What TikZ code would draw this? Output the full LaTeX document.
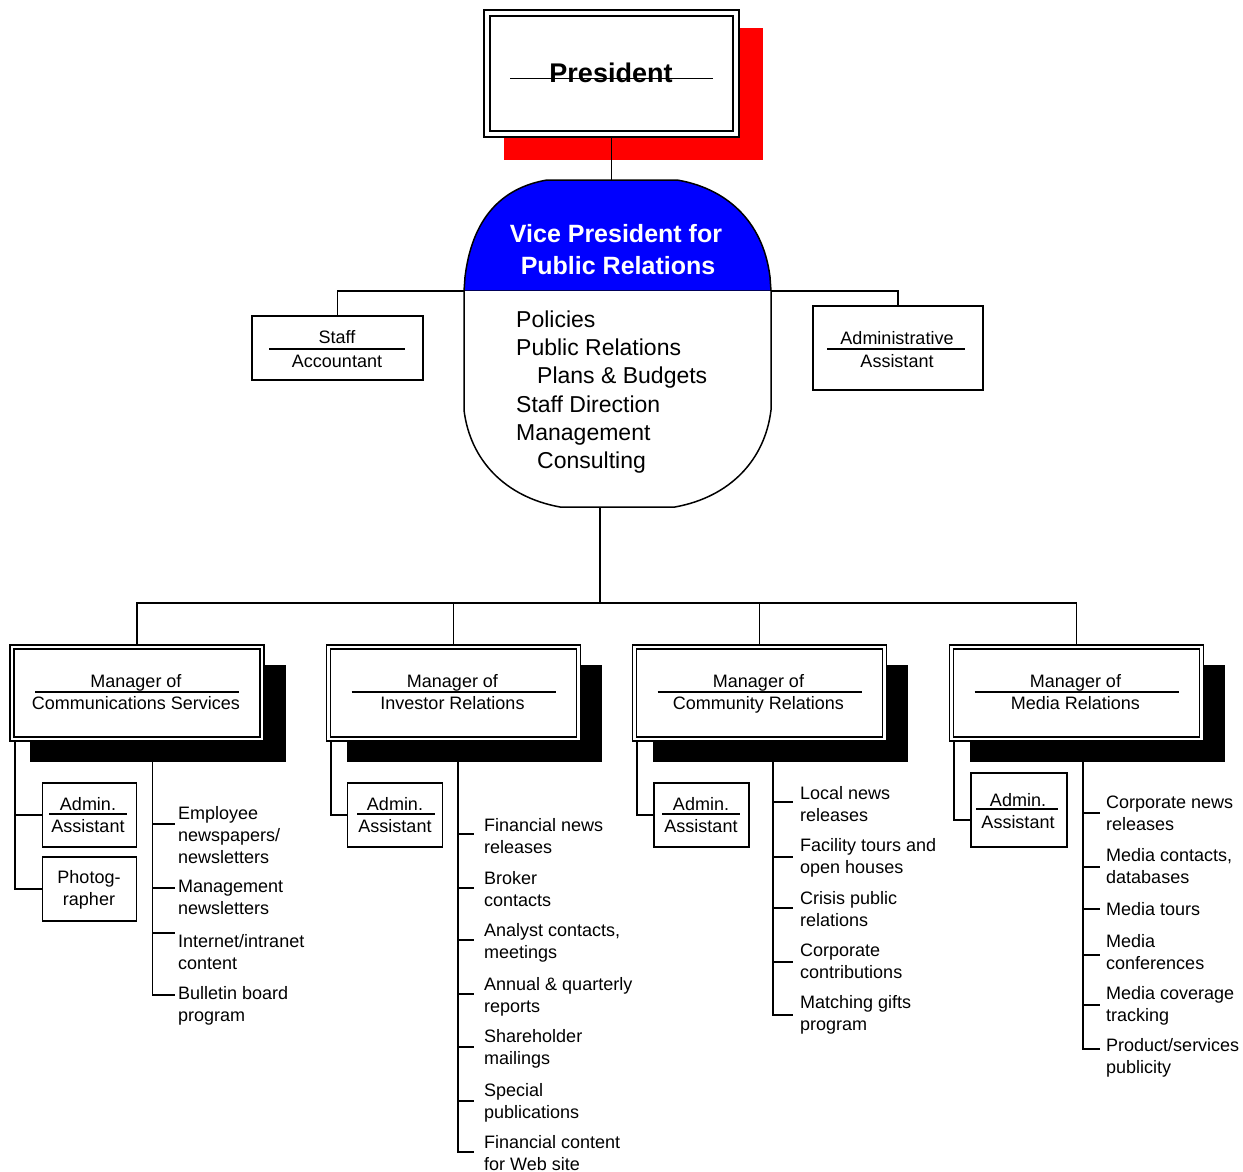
\documentclass[tikz,border=0pt]{standalone}
\usepackage{fontspec}
\setmainfont{Liberation Sans}
\usetikzlibrary{calc,backgrounds}
\definecolor{vpblue}{RGB}{0,0,255}
\definecolor{presred}{RGB}{255,0,0}
\begin{document}
\begin{tikzpicture}[x=1pt, y=-1pt,
  conn/.style={line width=1.8pt},
  sep/.style={line width=1.4pt},
  box/.style={draw, line width=1.8pt, fill=white, inner sep=0pt},
  dbox/.style={draw, line width=1.3pt, double=white, double distance=2.6pt,
    fill=white, inner sep=0pt, minimum width=250pt, minimum height=92pt},
  lbl/.style={inner sep=0pt, anchor=base, font=\fontsize{18}{22}\selectfont},
  vplist/.style={inner sep=0pt, anchor=base west, font=\fontsize{23}{28}\selectfont},
  vptitle/.style={inner sep=0pt, anchor=base, text=white,
    font=\fontsize{25}{32}\selectfont\bfseries},
  item/.style={inner sep=0pt, anchor=north west, align=left, yshift=13.4pt,
    font=\fontsize{18}{22}\selectfont, execute at begin node=\strut},
]
\useasboundingbox (0,0) rectangle (1243,1172);

% ---------- President ----------
\node[dbox, line width=1.4pt, double distance=4.5pt,
  minimum width=249pt, minimum height=121pt] (pres) at (611.5,73.5) {};
\node[inner sep=0pt, anchor=base, font=\fontsize{27}{30}\selectfont\bfseries]
  (pres-t) at (611,82) {President};
\draw[sep] (510,78.5) -- (713,78.5);

% ---------- Vice President ----------
\filldraw[fill=vpblue, line width=1.5pt]
  (464,291) -- (465,277) .. controls (472,220) and (500,188) .. (547,180)
  -- (677,180) .. controls (725,188) and (763,220) .. (770,277)
  -- (771,291) -- cycle;
\filldraw[fill=white, line width=1.5pt]
  (464,291) -- (464,410) .. controls (470,460) and (505,497) .. (560,507)
  -- (675,507) .. controls (730,497) and (765,460) .. (771,410) -- (771,291);
\node[vptitle] (vp-t1) at (616,242) {Vice President for};
\node[vptitle] (vp-t2) at (618,274) {Public Relations};
\node[vplist] (vp-l1) at (516,327) {Policies};
\node[vplist] (vp-l2) at (516,355.5) {Public Relations};
\node[vplist] (vp-l3) at (537,383.5) {Plans \& Budgets};
\node[vplist] (vp-l4) at (516,412) {Staff Direction};
\node[vplist] (vp-l5) at (516,440.5) {Management};
\node[vplist] (vp-l6) at (537,468.5) {Consulting};
\coordinate (vptop) at (611.5,180);
\coordinate (vpbot) at (600,507);
\coordinate (vpl) at (464,291);
\coordinate (vpr) at (771,291);
\coordinate (bus) at (600,603);

% ---------- Staff boxes ----------
\node[box, minimum width=171pt, minimum height=64pt] (staff) at (337.5,348) {};
\node[lbl] (staff-a) at (337,343.5) {Staff};
\node[lbl] (staff-b) at (337,367) {Accountant};
\draw[sep] (269,349) -- (405,349);

\node[box, minimum width=170pt, minimum height=84pt] (admin) at (898,348) {};
\node[lbl] (admin-a) at (897,344) {Administrative};
\node[lbl] (admin-b) at (897,367.5) {Assistant};
\draw[sep] (827,349) -- (965,349);

% ---------- Managers ----------
\foreach \i/\cx/\sub in {1/137/Communications Services, 2/453.5/Investor Relations,
    3/759.5/Community Relations, 4/1076.5/Media Relations} {
  \node[dbox] (m\i) at (\cx,693) {};
  \node[lbl] (m\i-a) at (\cx-1,687) {Manager of};
  \node[lbl] (m\i-b) at (\cx-1,709) {\sub};
  \draw[sep] (\cx-102,692) -- (\cx+102,692);
}

% ---------- Assistants ----------
\node[box, minimum width=94pt, minimum height=64pt] (a1) at (89.5,815) {};
\node[lbl] (a1-a) at (88,810) {Admin.};
\node[lbl] (a1-b) at (88,832) {Assistant};
\draw[sep] (49,814) -- (127,814);
\node[box, minimum width=94pt, minimum height=64pt] (ph) at (89.5,889) {};
\node[lbl] (ph-a) at (89,883) {Photog-};
\node[lbl] (ph-b) at (89,905) {rapher};

\node[box, minimum width=95pt, minimum height=64pt] (a2) at (395,815) {};
\node[lbl] (a2-a) at (395,810) {Admin.};
\node[lbl] (a2-b) at (395,832) {Assistant};
\draw[sep] (357,814) -- (435,814);

\node[box, minimum width=95pt, minimum height=64pt] (a3) at (701.5,815) {};
\node[lbl] (a3-a) at (701,810) {Admin.};
\node[lbl] (a3-b) at (701,832) {Assistant};
\draw[sep] (662,814) -- (740,814);

\node[box, minimum width=96pt, minimum height=74pt] (a4) at (1019,810) {};
\node[lbl] (a4-a) at (1018,806) {Admin.};
\node[lbl] (a4-b) at (1018,828) {Assistant};
\draw[sep] (976,809) -- (1058,809);

% ---------- Duties ----------
\node[item] (c1-1) at (178,819.5) {Employee\\newspapers/\\newsletters};
\node[item] (c1-2) at (178,893.5) {Management\\newsletters};
\node[item] (c1-3) at (178,947.5) {Internet/intranet\\content};
\node[item] (c1-4) at (178,999.5) {Bulletin board\\program};

\node[item] (c2-1) at (484,832) {Financial news\\releases};
\node[item] (c2-2) at (484,884.5) {Broker\\contacts};
\node[item] (c2-3) at (484,936.5) {Analyst contacts,\\meetings};
\node[item] (c2-4) at (484,991) {Annual \& quarterly\\reports};
\node[item] (c2-5) at (484,1042.5) {Shareholder\\mailings};
\node[item] (c2-6) at (484,1097) {Special\\publications};
\node[item] (c2-7) at (484,1149) {Financial content\\for Web site};

\node[item] (c3-1) at (800,800) {Local news\\releases};
\node[item] (c3-2) at (800,852) {Facility tours and\\open houses};
\node[item] (c3-3) at (800,904.5) {Crisis public\\relations};
\node[item] (c3-4) at (800,957) {Corporate\\contributions};
\node[item] (c3-5) at (800,1009) {Matching gifts\\program};

\node[item] (c4-1) at (1106,809.5) {Corporate news\\releases};
\node[item] (c4-2) at (1106,861.5) {Media contacts,\\databases};
\node[item] (c4-3) at (1106,913.5) {Media tours};
\node[item] (c4-4) at (1106,947.5) {Media\\conferences};
\node[item] (c4-5) at (1106,999.5) {Media coverage\\tracking};
\node[item] (c4-6) at (1106,1051.5) {Product/services\\publicity};

% tick ends of the duty lists
\foreach \k/\yy in {1/824, 2/888, 3/933, 4/995} \coordinate (t1-\k) at (175,\yy);
\foreach \k/\yy in {1/834, 2/888, 3/940, 4/994, 5/1047, 6/1101, 7/1152} \coordinate (t2-\k) at (474,\yy);
\foreach \k/\yy in {1/802, 2/857, 3/908, 4/962, 5/1015} \coordinate (t3-\k) at (793,\yy);
\foreach \k/\yy in {1/813, 2/867, 3/909, 4/955, 5/1005, 6/1049} \coordinate (t4-\k) at (1100,\yy);

% ---------- Shadows and connectors ----------
\begin{scope}[on background layer]
  \fill[presred] ($(pres.north west)+(18,16)$) rectangle ($(pres.south east)+(26,25)$);
  \foreach \i in {1,...,4}
    \fill[black] ($(m\i.north west)+(19,19)$) rectangle ($(m\i.south east)+(23,22)$);

  \draw[conn] (pres.south) -- (vptop);
  \draw[conn] (staff.north) |- (vpl) -- (vpr) -| (admin.north);
  \draw[conn] (vpbot) -- (bus);
  \draw[conn] (m1.north) |- (bus) -| (m4.north);
  \draw[conn] (m2.north) -- (m2.north |- bus);
  \draw[conn] (m3.north) -- (m3.north |- bus);

  \draw[conn] ([xshift=3.5pt]m1.south west) |- (a1.west);
  \draw[conn] ([xshift=3.5pt]m1.south west) |- (ph.west);
  \draw[conn] ([xshift=3.5pt]m2.south west) |- (a2.west);
  \draw[conn] ([xshift=3.5pt]m3.south west) |- (a3.west);
  \draw[conn] ([xshift=3.5pt]m4.south west) |- ([yshift=-10pt]a4.west);

  \foreach \k in {1,...,4} \draw[conn] ([xshift=15.5pt]m1.south) |- (t1-\k);
  \foreach \k in {1,...,7} \draw[conn] ([xshift=4.5pt]m2.south) |- (t2-\k);
  \foreach \k in {1,...,5} \draw[conn] ([xshift=13.5pt]m3.south) |- (t3-\k);
  \foreach \k in {1,...,6} \draw[conn] ([xshift=6.5pt]m4.south) |- (t4-\k);
\end{scope}
\end{tikzpicture}
\end{document}
